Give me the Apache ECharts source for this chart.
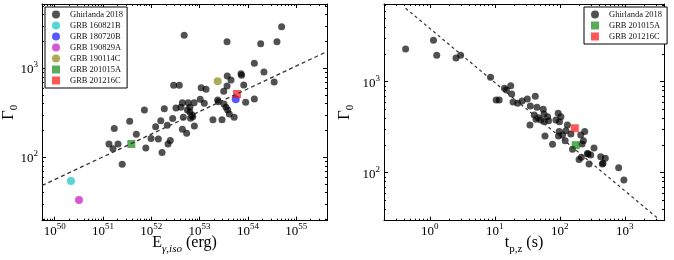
<!DOCTYPE html>
<html>
<head>
<meta charset="utf-8">
<script src="https://cdn.jsdelivr.net/npm/echarts@6/dist/echarts.min.js"></script>
<style>html,body{margin:0;padding:0;background:#fff;}#c{width:674px;height:260px;}</style>
</head>
<body>
<div id="c"></div>
<script>
// ---------- Left panel: Gamma0 vs E_gamma,iso ----------
const ghirEiso = [5.0e54, 4.8e52, 3.7e53, 1.84e54, 4.0e54, 1.36e54, 2.15e54, 3.74e53, 7.2e53, 7.4e53,
  4.47e53, 8.2e53, 3.5e54, 3.7e53, 3.16e53, 1.36e54, 9.0e53, 2.37e53, 2.44e53, 3.2e53,
  3.52e53, 3.82e53, 4.12e53, 5.2e53, 2.91e53, 1.89e53, 1.36e53, 1.08e53, 2.9e52, 3.8e52,
  1.03e53, 1.25e53, 4.4e52, 5.8e52, 7.7e52, 3.24e52, 4.1e52, 6.3e52, 5.6e52, 7.0e52,
  6.5e52, 7.2e52, 1.86e52, 7.2e51, 4.6e52, 2.77e52, 1.57e52, 3.57e51, 2.14e52, 1.23e52,
  7.8e52, 4.4e52, 5.4e52, 1.71e51, 4.9e51, 9.9e51, 1.4e52, 2.47e52, 2.22e52, 1.33e51,
  2.05e51, 1.61e51, 7.7e51, 1.67e52, 2.5e51, 6.3e52];
const ghirGammaE = [2930, 2350, 1990, 1890, 1980, 1140, 908, 819, 869, 834,
  739, 649, 702, 632, 552, 452, 415, 440, 422, 397,
  365, 340, 307, 281, 264, 264, 581, 605, 644, 644,
  449, 405, 410, 410, 410, 358, 365, 365, 340, 298,
  274, 286, 351, 340, 281, 272, 258, 254, 229, 221,
  225, 207, 186, 210, 181, 163, 161, 154, 141, 141,
  141, 125, 127, 113, 83.4, 323];

const grbNamesE = ['GRB 160821B', 'GRB 180720B', 'GRB 190829A', 'GRB 190114C', 'GRB 201015A', 'GRB 201216C'];
const grbEiso   = [2.17e50, 5.6e53, 3.18e50, 2.37e53, 3.86e51, 5.94e53];
const grbGammaE = [54.2, 449, 33.1, 714, 141, 514];

const fitEiso   = [5.46e49, 4.35e55];
const fitGammaE = [48.2, 1542];

// ---------- Right panel: Gamma0 vs t_p,z ----------
const ghirTp = [0.425, 1.14, 1.28, 2.53, 2.98, 8.6, 14.1, 15.1, 17.6, 18.2,
  10.5, 11.7, 19.1, 22.5, 26.3, 31.7, 42, 35.2, 44.6, 55.7,
  57.1, 40.5, 46.7, 51.3, 43.1, 57.7, 64.9, 67.2, 34.8, 94.5,
  104, 98.9, 87.1, 131, 97.9, 110, 95.5, 124, 148, 59.2,
  121, 210, 242, 231, 220, 77.3, 157, 336, 198, 215,
  266, 299, 282, 426, 451, 804, 969, 501, 462, 272];
const ghirGammaT = [2285, 2850, 1950, 1820, 1950, 1117, 846, 811, 904, 733,
  630, 630, 598, 580, 614, 646, 692, 541, 523, 498,
  442, 430, 402, 379, 386, 363, 412, 372, 334, 450,
  412, 363, 379, 334, 283, 260, 253, 290, 266, 253,
  225, 260, 283, 225, 207, 206, 181, 187, 140, 148,
  163, 157, 125, 150, 125, 113.5, 83.2, 144, 127, 161];

const grbNamesT = ['GRB 201015A', 'GRB 201216C'];
const grbTp     = [176, 170];
const grbGammaT = [201, 308];

const fitTp     = [0.425, 3214];
const fitGammaT = [6412, 31.6];

// ---------- styling ----------
const grbColors = {
  'GRB 160821B': 'rgba(0,191,191,0.82)',
  'GRB 180720B': 'rgba(0,0,255,0.82)',
  'GRB 190829A': 'rgba(191,0,191,0.82)',
  'GRB 190114C': 'rgba(128,128,0,0.82)',
  'GRB 201015A': 'rgba(0,128,0,0.82)',
  'GRB 201216C': 'rgba(255,0,0,0.82)'
};
const grbSymbol = {
  'GRB 160821B': 'circle', 'GRB 180720B': 'circle', 'GRB 190829A': 'circle',
  'GRB 190114C': 'circle', 'GRB 201015A': 'rect', 'GRB 201216C': 'rect'
};
const FONT = 'Liberation Serif';
const DOT = 'rgba(0,0,0,0.85)';

function decades(lo, hi) { const a = []; for (let n = Math.ceil(Math.log10(lo) - 1e-9); Math.pow(10, n) <= hi * (1 + 1e-9); n++) a.push(Math.pow(10, n)); return a; }
function minors(lo, hi) {
  const a = [];
  for (let n = Math.floor(Math.log10(lo)) - 1; n <= Math.ceil(Math.log10(hi)); n++) {
    for (let k = 2; k <= 9; k++) { const v = k * Math.pow(10, n); if (v >= lo && v <= hi) a.push(v); }
  }
  return a;
}
const supRich = {
  b: { fontFamily: FONT, fontSize: 13, lineHeight: 16, verticalAlign: 'bottom', color: '#000' },
  e: { fontFamily: FONT, fontSize: 9, lineHeight: 10, verticalAlign: 'top', color: '#000' }
};
function supFmt(v) { return '{b|10}{e|' + Math.round(Math.log10(v)) + '}'; }
const lineSt = { color: '#000', width: 1 };

function axesFor(dim, g, min, max, labelled, nameCfg) {
  const maj = decades(min, max), mi = minors(min, max);
  const pos = dim === 'x' ? ['bottom', 'top'] : ['left', 'right'];
  const out = [];
  pos.forEach((p, pi) => {
    const major = {
      type: 'log', gridIndex: g, position: p, min: min, max: max,
      axisLine: { show: true, onZero: false, lineStyle: lineSt },
      axisTick: { show: true, inside: true, length: 4, customValues: maj, lineStyle: lineSt },
      axisLabel: (pi === 0 && labelled) ? { show: true, customValues: maj, formatter: supFmt, rich: supRich, margin: dim === 'x' ? 1 : 4 } : { show: false },
      splitLine: { show: false }, minorTick: { show: false }, minorSplitLine: { show: false }
    };
    if (pi === 0 && nameCfg) Object.assign(major, nameCfg);
    out.push(major);
    out.push({
      type: 'log', gridIndex: g, position: p, min: min, max: max,
      axisLine: { show: false, onZero: false },
      axisTick: { show: true, inside: true, length: 2, customValues: mi, lineStyle: lineSt },
      axisLabel: { show: false }, splitLine: { show: false }
    });
  });
  return out;
}

const L = { xmin: Math.pow(10, 49.737), xmax: Math.pow(10, 55.638), ymin: Math.pow(10, 1.288), ymax: Math.pow(10, 3.722) };
const R = { xmin: Math.pow(10, -0.704), xmax: Math.pow(10, 3.603), ymin: Math.pow(10, 1.473), ymax: Math.pow(10, 3.854) };

const xNameL = {
  name: '{b|E}{s|γ,iso}{b| (erg)}', nameLocation: 'middle', nameGap: 14, nameMoveOverlap: false,
  nameTextStyle: { rich: {
    b: { fontFamily: FONT, fontSize: 16, lineHeight: 20, verticalAlign: 'top', color: '#000' },
    s: { fontFamily: FONT, fontSize: 11, fontStyle: 'italic', lineHeight: 12, verticalAlign: 'bottom', color: '#000' } } }
};
const xNameR = {
  name: '{b|t}{s|p,z}{b| (s)}', nameLocation: 'middle', nameGap: 14, nameMoveOverlap: false,
  nameTextStyle: { rich: {
    b: { fontFamily: FONT, fontSize: 16, lineHeight: 20, verticalAlign: 'top', color: '#000' },
    s: { fontFamily: FONT, fontSize: 11, lineHeight: 12, verticalAlign: 'bottom', color: '#000' } } }
};
function yName(gap) {
  return {
    name: '{b|Γ}{s|0}', nameLocation: 'middle', nameGap: gap, nameRotate: 90, nameMoveOverlap: false,
    nameTextStyle: { rich: {
      b: { fontFamily: FONT, fontSize: 17, lineHeight: 20, verticalAlign: 'top', color: '#000' },
      s: { fontFamily: FONT, fontSize: 11, lineHeight: 12, verticalAlign: 'bottom', color: '#000' } } }
  };
}

const xAxes = [].concat(axesFor('x', 0, L.xmin, L.xmax, true, xNameL), axesFor('x', 1, R.xmin, R.xmax, true, xNameR));
const yAxes = [].concat(axesFor('y', 0, L.ymin, L.ymax, true, yName(22)), axesFor('y', 1, R.ymin, R.ymax, true, yName(28)));
// major axis indices: grid0 -> x0,y0 ; grid1 -> x4,y4

const zip = (a, b) => a.map((v, i) => [v, b[i]]);
const series = [];
series.push({ name: 'Ghirlanda 2018', type: 'scatter', xAxisIndex: 0, yAxisIndex: 0, symbol: 'circle', symbolSize: 7,
  itemStyle: { color: DOT }, data: zip(ghirEiso, ghirGammaE), z: 2 });
grbNamesE.forEach((n, i) => series.push({ name: n, type: 'scatter', xAxisIndex: 0, yAxisIndex: 0, symbol: grbSymbol[n], symbolSize: 8,
  itemStyle: { color: grbColors[n] }, data: [[grbEiso[i], grbGammaE[i]]], z: 3 }));
series.push({ name: 'fitE', type: 'line', xAxisIndex: 0, yAxisIndex: 0, symbol: 'none', silent: true,
  lineStyle: { color: '#333', width: 1.3, type: [4, 3] }, data: zip(fitEiso, fitGammaE), z: 4 });

series.push({ name: 'Ghirlanda 2018', type: 'scatter', xAxisIndex: 4, yAxisIndex: 4, symbol: 'circle', symbolSize: 7,
  itemStyle: { color: DOT }, data: zip(ghirTp, ghirGammaT), z: 2 });
grbNamesT.forEach((n, i) => series.push({ name: n, type: 'scatter', xAxisIndex: 4, yAxisIndex: 4, symbol: grbSymbol[n], symbolSize: 8,
  itemStyle: { color: grbColors[n] }, data: [[grbTp[i], grbGammaT[i]]], z: 3 }));
series.push({ name: 'fitT', type: 'line', xAxisIndex: 4, yAxisIndex: 4, symbol: 'none', silent: true,
  lineStyle: { color: '#333', width: 1.2, type: [3, 3] }, data: zip(fitTp, fitGammaT), z: 4 });

function legendData(names) {
  return names.map(n => ({ name: n, icon: n === 'Ghirlanda 2018' ? 'circle' : (grbSymbol[n] === 'rect' ? 'rect' : 'circle') }));
}
const legendBase = {
  orient: 'vertical', align: 'left', itemWidth: 8, itemHeight: 8, itemGap: 2, selectedMode: false,
  borderColor: '#000', borderWidth: 1, backgroundColor: '#fff', borderRadius: 0,
  textStyle: { fontFamily: FONT, fontSize: 8.5, lineHeight: 9, color: '#111', padding: [0, 0, 0, 5] }
};

const chart = echarts.init(document.getElementById('c'), null, { renderer: 'canvas' });
chart.setOption({
  animation: false,
  backgroundColor: '#fff',
  grid: [
    { left: 42, top: 4, width: 285, height: 216.7, outerBoundsMode: 'none', containLabel: false },
    { left: 384, top: 4, width: 280, height: 216.7, outerBoundsMode: 'none', containLabel: false }
  ],
  xAxis: xAxes,
  yAxis: yAxes,
  legend: [
    Object.assign({}, legendBase, { left: 45, top: 7, padding: [3, 4, 3, 7], data: legendData(['Ghirlanda 2018'].concat(grbNamesE)) }),
    Object.assign({}, legendBase, { left: 584, top: 7, padding: [3, 5, 3, 7], data: legendData(['Ghirlanda 2018'].concat(grbNamesT)) })
  ],
  series: series
});
</script>
</body>
</html>
